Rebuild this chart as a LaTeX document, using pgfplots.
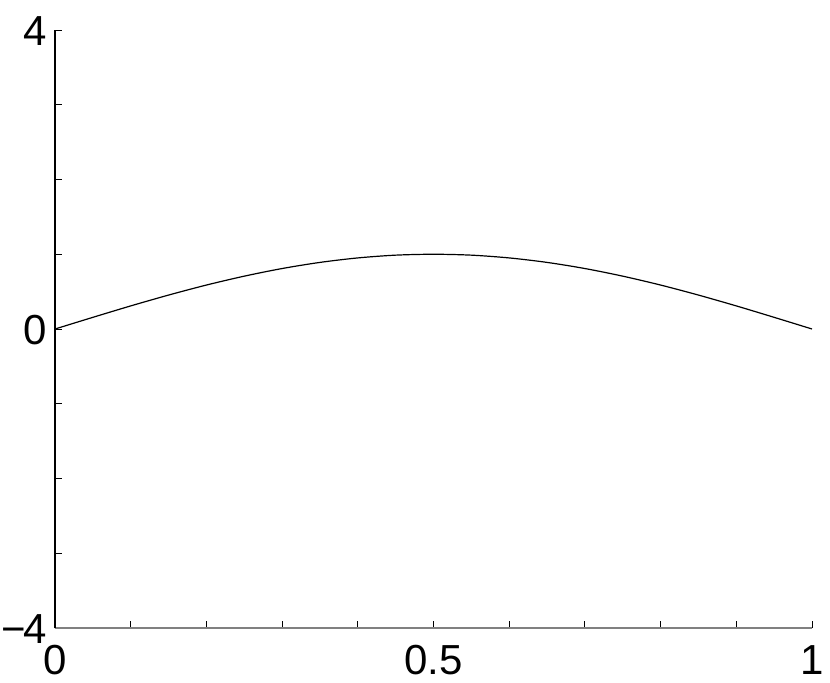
\documentclass[border=0pt]{standalone}
\usepackage{fontspec}
\setmainfont{Liberation Sans}
\usepackage{pgfplots}
\pgfplotsset{compat=1.18}

\begin{document}
\begin{tikzpicture}
\begin{axis}[
  scale only axis,
  width=378.5pt,
  height=299pt,
  xmin=0, xmax=1,
  ymin=-4, ymax=4,
  axis x line*=bottom,
  axis y line*=left,
  x axis line style={draw=black!50, line width=0.9pt},
  y axis line style={draw=black, line width=0.7pt},
  xtick={0,0.5,1},
  xticklabels={0,0.5,1},
  minor xtick={0.1,0.2,0.3,0.4,0.6,0.7,0.8,0.9},
  ytick={-4,0,4},
  yticklabels={−\kern-1.5pt4,0,4},
  minor ytick={-3,-2,-1,1,2,3},
  tick align=inside,
  major tick length=3.5pt,
  minor tick length=3.5pt,
  tick style={draw=black, line width=0.5pt},
  tick label style={font=\fontsize{21}{25}\selectfont, inner sep=0pt,
    text height=15pt, text depth=0pt},
  xticklabel style={anchor=north, yshift=-8pt},
  yticklabel style={anchor=east, xshift=-4pt},
  clip=false,
]
\addplot[black, line width=0.6pt, smooth] coordinates {
  (0.00,0.000) (0.05,0.156) (0.10,0.309) (0.15,0.454) (0.20,0.588)
  (0.25,0.707) (0.30,0.809) (0.35,0.891) (0.40,0.951) (0.45,0.988)
  (0.50,1.000) (0.55,0.988) (0.60,0.951) (0.65,0.891) (0.70,0.809)
  (0.75,0.707) (0.80,0.588) (0.85,0.454) (0.90,0.309) (0.95,0.156)
  (1.00,0.000)
};
\end{axis}
\pgfresetboundingbox
\path[use as bounding box] ([shift={(-27.5pt,-27pt)}]current axis.south west)
  rectangle ([shift={(9pt,15pt)}]current axis.north east);
\end{tikzpicture}
\end{document}
